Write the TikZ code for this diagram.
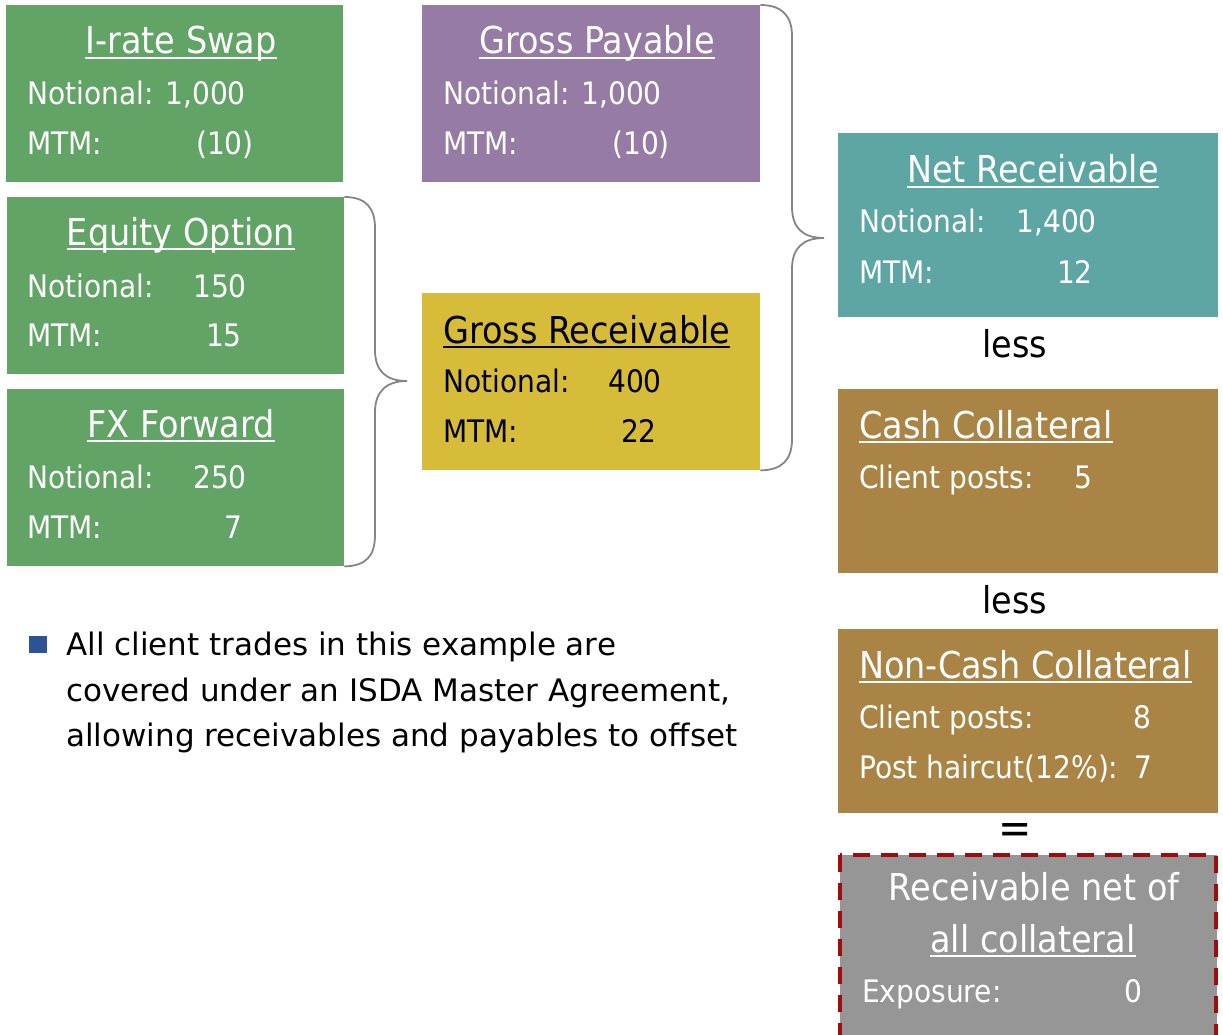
\documentclass[tikz,border=0pt]{standalone}
\usepackage{fontspec}
\setmainfont{DejaVu Sans}[FakeStretch=0.905]
\newfontfamily\bulletfont{DejaVu Sans}
\definecolor{cgreen}{HTML}{62A466}
\definecolor{cpurple}{HTML}{967CA4}
\definecolor{cyellow}{HTML}{D7BC3A}
\definecolor{cteal}{HTML}{5DA6A4}
\definecolor{cbrown}{HTML}{AA8444}
\definecolor{cgray}{HTML}{969696}
\definecolor{cred}{HTML}{A00C0C}
\definecolor{cblue}{HTML}{2C5494}
\definecolor{cbrace}{HTML}{858585}
\newcommand\myul[1]{\setbox0\hbox{#1}\rlap{\rule[-0.14em]{\wd0}{0.055em}}\box0}
\tikzset{
  box/.style={rectangle, inner sep=0pt, anchor=north west, draw=none},
  ttl/.style={font=\fontsize{37}{44}\selectfont, inner sep=0pt, anchor=base},
  ttlw/.style={font=\fontsize{37}{44}\selectfont, inner sep=0pt, anchor=base west},
  bdy/.style={font=\fontsize{31}{38}\selectfont, inner sep=0pt, anchor=base west},
  val/.style={font=\fontsize{31}{38}\selectfont, inner sep=0pt, anchor=base east},
  note/.style={font=\bulletfont\fontsize{31}{38}\selectfont, inner sep=0pt, anchor=base west},
  bracepath/.style={draw=cbrace, line width=1.8pt},
}
\begin{document}
\begin{tikzpicture}[x=1pt,y=-1pt]
\useasboundingbox (0,0) rectangle (1223,1035);
% ---------- boxes ----------
\node[box, fill=cgreen, minimum width=337, minimum height=177] (irs) at (6,5) {};
\node[box, fill=cgreen, minimum width=337, minimum height=177] (eqo) at (7,197) {};
\node[box, fill=cgreen, minimum width=337, minimum height=177] (fxf) at (7,389) {};
\node[box, fill=cpurple, minimum width=338, minimum height=177] (gp) at (422,5) {};
\node[box, fill=cyellow, minimum width=338, minimum height=177] (gr) at (422,293) {};
\node[box, fill=cteal, minimum width=380, minimum height=184] (nr) at (838,133) {};
\node[box, fill=cbrown, minimum width=380, minimum height=184] (cc) at (838,389) {};
\node[box, fill=cbrown, minimum width=380, minimum height=184] (ncc) at (838,629) {};
\node[box, fill=cgray, minimum width=377, minimum height=185] (rn) at (840,855) {};
\draw[cred, line width=4pt, dash pattern=on 17pt off 11pt] (840,855) rectangle (1216,1040);
% ---------- I-rate Swap ----------
\begin{scope}[text=white]
\node[ttl] (irs-t) at (181,54) {\myul{I-rate Swap}};
\node[bdy] (irs-n) at (27,105) {Notional: 1,000};
\node[bdy] (irs-m) at (27,155) {MTM:};
\node[val] (irs-mv) at (254,155) {(10)};
% Equity Option
\node[ttl] (eqo-t) at (181,245) {\myul{Equity Option}};
\node[bdy] (eqo-n) at (27,297) {Notional:};
\node[val] (eqo-nv) at (247,297) {150};
\node[bdy] (eqo-m) at (27,346) {MTM:};
\node[val] (eqo-mv) at (242,346) {15};
% FX Forward
\node[ttl] (fxf-t) at (181,437) {\myul{FX Forward}};
\node[bdy] (fxf-n) at (27,488) {Notional:};
\node[val] (fxf-nv) at (247,488) {250};
\node[bdy] (fxf-m) at (27,538) {MTM:};
\node[val] (fxf-mv) at (243,538) {7};
% Gross Payable
\node[ttl] (gp-t) at (597,54) {\myul{Gross Payable}};
\node[bdy] (gp-n) at (443,105) {Notional: 1,000};
\node[bdy] (gp-m) at (443,155) {MTM:};
\node[val] (gp-mv) at (670,155) {(10)};
% Net Receivable
\node[ttl] (nr-t) at (1033,183) {\myul{Net Receivable}};
\node[bdy] (nr-n) at (859,233) {Notional:};
\node[val] (nr-nv) at (1097,233) {1,400};
\node[bdy] (nr-m) at (859,283) {MTM:};
\node[val] (nr-mv) at (1093,283) {12};
% Cash Collateral
\node[ttlw] (cc-t) at (859,438) {\myul{Cash Collateral}};
\node[bdy] (cc-n) at (859,488) {Client posts:};
\node[val] (cc-nv) at (1093,488) {5};
% Non-Cash Collateral
\node[ttlw] (ncc-t) at (859,678) {\myul{Non-Cash Collateral}};
\node[bdy] (ncc-n) at (859,728) {Client posts:};
\node[val] (ncc-nv) at (1152,728) {8};
\node[bdy] (ncc-p) at (859,778) {Post haircut(12\%):};
\node[val] (ncc-pv) at (1153,778) {7};
% Receivable net
\node[ttl] (rn-t1) at (1034,900) {Receivable net of};
\node[ttl] (rn-t2) at (1033,952) {\myul{all collateral}};
\node[bdy] (rn-e) at (862,1002) {Exposure:};
\node[val] (rn-ev) at (1143,1002) {0};
\end{scope}
% Gross Receivable (black text)
\node[ttlw] (gr-t) at (443,343) {\myul{Gross Receivable}};
\node[bdy] (gr-n) at (443,392) {Notional:};
\node[val] (gr-nv) at (662,392) {400};
\node[bdy] (gr-m) at (443,442) {MTM:};
\node[val] (gr-mv) at (657,442) {22};
% ---------- operators ----------
\node[ttl] (less1) at (1015,357) {less};
\node[ttl] (less2) at (1015,613) {less};
\node[font=\fontsize{44}{50}\selectfont, inner sep=0pt, anchor=center] (eq) at (1015,834) {=};
% ---------- braces ----------
\path[bracepath] (eqo.north east) .. controls (366,197) and (375,208) .. (375,228)
  -- (375,350) .. controls (375,371) and (386,381) .. (407,381) coordinate (b1tip)
  .. controls (386,381) and (375,392) .. (375,412)
  -- (375,535) .. controls (375,556) and (366,566) .. (fxf.south east);
\path[bracepath] (gp.north east) .. controls (782,5) and (792,16) .. (792,36)
  -- (792,207) .. controls (792,228) and (803,238) .. (824,238) coordinate (b2tip)
  .. controls (803,238) and (792,248) .. (792,269)
  -- (792,439) .. controls (792,460) and (782,470) .. (gr.south east);
% ---------- bullet ----------
\fill[cblue] (29,636) rectangle (47,653);
\node[note] (note1) at (66,655) {All client trades in this example are};
\node[note] (note2) at (66,701) {covered under an ISDA Master Agreement,};
\node[note] (note3) at (66,746) {allowing receivables and payables to offset};
\end{tikzpicture}
\end{document}
